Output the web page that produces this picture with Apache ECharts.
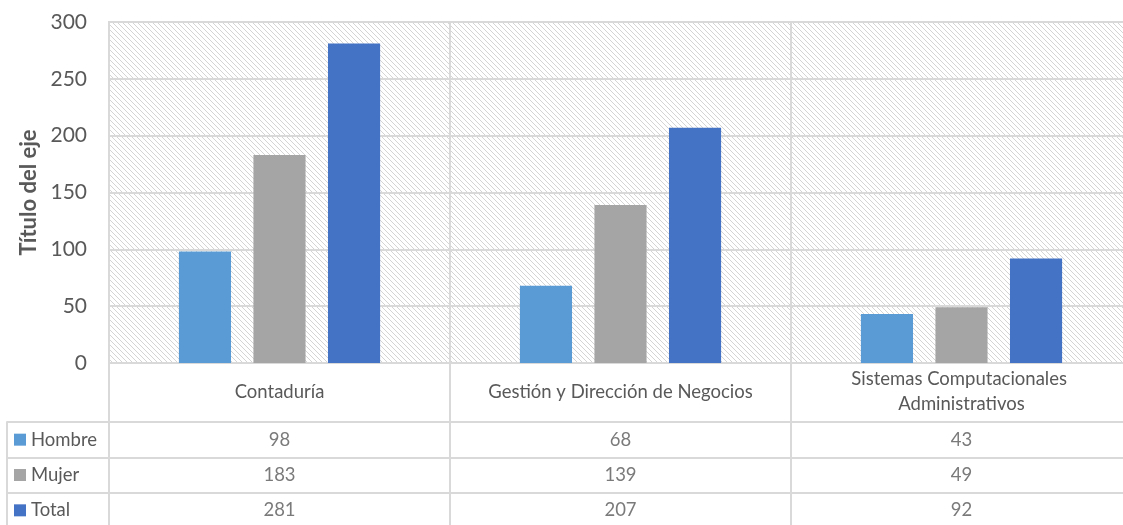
<!DOCTYPE html>
<html>
<head>
<meta charset="utf-8">
<script src="https://cdn.jsdelivr.net/npm/echarts@6/dist/echarts.min.js"></script>
<style>html,body{margin:0;padding:0;background:#fff;}#c{width:1123px;height:525px;}</style>
</head>
<body>
<div id="c"></div>
<script>
const categories = ['Contaduría', 'Gestión y Dirección de Negocios', 'Sistemas Computacionales Administrativos'];
const seriesNames = ['Hombre', 'Mujer', 'Total'];
const hombre = [98, 68, 43];
const mujer = [183, 139, 49];
const total = [281, 207, 92];
const yTicks = [0, 50, 100, 150, 200, 250, 300];
const axisTitle = 'Título del eje';

const colors = ['#5B9BD5', '#A5A5A5', '#4472C4'];
const values = [hombre, mujer, total];
const txt = '#595959';
const lineC = '#d9d9d9';
const FONT = 'Lato';

// hatch pattern tile (downward diagonal)
const P = 5;
const tile = document.createElement('canvas');
tile.width = P; tile.height = P;
const tc = tile.getContext('2d');
tc.fillStyle = '#ffffff';
tc.fillRect(0, 0, P, P);
tc.fillStyle = '#d4d4d4';
for (let y = 0; y < P; y++) {
  tc.fillRect(y % P, y, 1, 1);
}

const chart = echarts.init(document.getElementById('c'), null, {renderer: 'canvas'});

const tableData = [];
values.forEach((arr, r) => arr.forEach((v, i) => tableData.push([i, r, v])));

const rich = {};
seriesNames.forEach((n, i) => {
  rich['s' + i] = {backgroundColor: colors[i], width: 12, height: 12};
});
rich.t = {color: txt, fontSize: 18.5, fontFamily: FONT, padding: [0, 0, 0, 5]};

chart.setOption({
  animation: false,
  backgroundColor: '#ffffff',
  grid: [
    {left: 109, width: 1023, top: 22, height: 341, show: true, containLabel: false,
     outerBoundsMode: 'none',
     backgroundColor: {image: tile, repeat: 'repeat'},
     borderColor: lineC, borderWidth: 2},
    {left: 109, width: 1023, top: 422, height: 106, show: true, containLabel: false,
     outerBoundsMode: 'none',
     borderColor: lineC, borderWidth: 2, backgroundColor: 'transparent'}
  ],
  xAxis: [
    {type: 'category', gridIndex: 0, data: categories,
     axisLine: {show: true, lineStyle: {color: lineC, width: 2}},
     axisTick: {show: true, length: 59, lineStyle: {color: lineC, width: 2}},
     splitLine: {show: true, lineStyle: {color: lineC, width: 2}},
     axisLabel: {color: txt, fontSize: 18.5, fontFamily: FONT, margin: 29,
                 verticalAlign: 'middle', lineHeight: 25, width: 320, overflow: 'break',
                 interval: 0}},
    {type: 'category', gridIndex: 1, data: categories,
     axisLine: {show: false}, axisTick: {show: false}, axisLabel: {show: false},
     splitLine: {show: true, lineStyle: {color: lineC, width: 2}}}
  ],
  yAxis: [
    {type: 'value', gridIndex: 0, min: 0, max: 300, interval: 50,
     name: axisTitle, nameLocation: 'middle', nameGap: 68, nameRotate: 90,
     nameTextStyle: {color: txt, fontSize: 22, fontWeight: 'bold', fontFamily: FONT},
     axisLine: {show: false}, axisTick: {show: false},
     splitLine: {show: true, lineStyle: {color: lineC, width: 2}},
     axisLabel: {color: txt, fontSize: 21, fontFamily: FONT, margin: 22,
                 formatter: v => yTicks.includes(v) ? String(v) : ''}},
    {type: 'category', gridIndex: 1, data: seriesNames, inverse: true,
     axisLine: {show: true, lineStyle: {color: lineC, width: 2}},
     axisTick: {show: true, length: 102, lineStyle: {color: lineC, width: 2}},
     splitLine: {show: true, lineStyle: {color: lineC, width: 2}},
     axisLabel: {margin: 95, align: 'left', rich: rich,
                 formatter: (v, i) => '{s' + i + '|}{t|' + v + '}'}},
    {type: 'category', gridIndex: 1, data: seriesNames, inverse: true, position: 'left', offset: 102,
     axisLine: {show: true, lineStyle: {color: lineC, width: 2}},
     axisTick: {show: false}, axisLabel: {show: false}, splitLine: {show: false}}
  ],
  series: seriesNames.map((n, i) => ({
    name: n, type: 'bar', xAxisIndex: 0, yAxisIndex: 0, data: values[i],
    barGap: '43%', barCategoryGap: '41%',
    itemStyle: {color: colors[i]}
  })).concat([{
    type: 'scatter', xAxisIndex: 1, yAxisIndex: 1, data: tableData,
    encode: {x: 0, y: 1},
    symbolSize: 1, itemStyle: {color: 'rgba(0,0,0,0)'}, silent: true,
    label: {show: true, position: 'inside', color: txt, fontSize: 18.5, fontFamily: FONT,
            formatter: p => String(p.value[2])}
  }])
});
</script>
</body>
</html>
